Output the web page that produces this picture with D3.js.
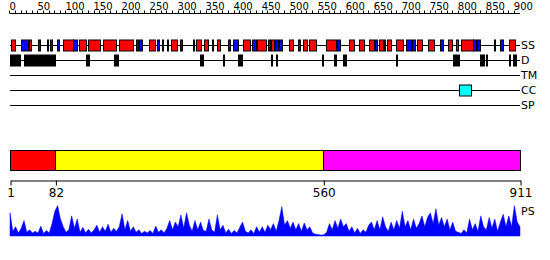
<!DOCTYPE html>
<html>
<head>
<meta charset="utf-8">
<script src="https://cdn.jsdelivr.net/npm/d3@7"></script>
<style>
  body { margin: 0; background: #fff; }
  text { font-family: "DejaVu Sans", Verdana, sans-serif; }
</style>
</head>
<body>
<script>
// sequence length and track names
const seqLength = 911;
const trackNames = ['SS', 'D', 'TM', 'CC', 'SP'];

// secondary structure: H = helix, E = strand (start, end residue)
const ssRanges = [
    ['H', 3, 10], ['E', 21, 33], ['H', 35, 39], ['E', 51, 55], ['H', 67, 69],
    ['E', 72, 76], ['E', 85, 89], ['H', 96, 114], ['E', 114, 121], ['H', 124, 137],
    ['H', 140, 162], ['H', 167, 190], ['H', 196, 221], ['E', 226, 230], ['E', 231, 237],
    ['H', 249, 260], ['E', 264, 267], ['E', 273, 274], ['H', 281, 283], ['H', 289, 299],
    ['E', 305, 308], ['H', 328, 330], ['H', 333, 342], ['H', 348, 356], ['E', 362, 364],
    ['H', 371, 376], ['E', 390, 394], ['E', 399, 408], ['H', 417, 430], ['E', 432, 439],
    ['H', 442, 458], ['E', 461, 464], ['H', 467, 472], ['E', 474, 479], ['E', 481, 486],
    ['H', 499, 507], ['E', 515, 519], ['H', 524, 532], ['H', 534, 546], ['H', 564, 582],
    ['E', 585, 591], ['H', 605, 614], ['H', 623, 632], ['H', 641, 650], ['E', 653, 657],
    ['H', 660, 667], ['E', 668, 670], ['H', 674, 682], ['H', 689, 701], ['E', 707, 716],
    ['E', 719, 724], ['H', 728, 737], ['H', 746, 757], ['E', 769, 775], ['H', 783, 790],
    ['H', 796, 800], ['H', 805, 826], ['E', 828, 834], ['E', 835, 841], ['E', 864, 866],
    ['E', 875, 880], ['H', 892, 903]
];

// disordered regions
const disorderRanges = [
    [1, 19], [26, 81], [137, 142], [187, 194], [340, 346], [381, 383], [408, 415],
    [467, 468], [476, 478], [558, 559], [580, 583], [596, 601], [689, 690],
    [791, 797], [798, 801], [840, 848], [850, 852], [892, 893], [898, 903]
];

// coiled coil, transmembrane and signal peptide
const coilRanges = [[803, 824]];
const tmRanges = [];
const spRanges = [];

// domain boundaries for the big bar
const domainBounds = [1, 82, 560, 911];

// PS profile, one value every 5 residues starting at 1
const psValues = [
    0.75, 0.15, 0.3, 0.1, 0.25, 0.5, 0.12, 0.2, 0.1, 0.15,
    0.1, 0.32, 0.08, 0.18, 0.1, 0.4, 0.8, 0.98, 0.55, 0.3,
    0.12, 0.2, 0.65, 0.25, 0.55, 0.12, 0.28, 0.1, 0.22, 0.1,
    0.2, 0.35, 0.12, 0.3, 0.15, 0.38, 0.12, 0.25, 0.15, 0.3,
    0.72, 0.2, 0.5, 0.15, 0.3, 0.12, 0.2, 0.08, 0.15, 0.1,
    0.18, 0.08, 0.32, 0.12, 0.2, 0.1, 0.25, 0.5, 0.2, 0.45,
    0.3, 0.68, 0.25, 0.75, 0.35, 0.15, 0.5, 0.2, 0.45, 0.18,
    0.15, 0.55, 0.2, 0.12, 0.68, 0.2, 0.35, 0.1, 0.22, 0.08,
    0.18, 0.1, 0.28, 0.45, 0.15, 0.1, 0.2, 0.08, 0.3, 0.12,
    0.3, 0.12, 0.35, 0.2, 0.4, 0.15, 0.5, 0.95, 0.35, 0.5,
    0.25, 0.45, 0.2, 0.4, 0.15, 0.42, 0.2, 0.3, 0.1, 0.06,
    0.05, 0.03, 0.04, 0.12, 0.4, 0.2, 0.5, 0.25, 0.55, 0.3,
    0.4, 0.15, 0.3, 0.1, 0.25, 0.08, 0.2, 0.12, 0.35, 0.45,
    0.2, 0.5, 0.2, 0.62, 0.3, 0.15, 0.45, 0.2, 0.5, 0.25,
    0.8, 0.3, 0.5, 0.2, 0.55, 0.25, 0.4, 0.65, 0.3, 0.6,
    0.75, 0.4, 0.88, 0.35, 0.6, 0.3, 0.55, 0.2, 0.45, 0.15,
    0.12, 0.08, 0.2, 0.1, 0.55, 0.2, 0.4, 0.15, 0.65, 0.3,
    0.2, 0.6, 0.25, 0.55, 0.15, 0.45, 0.7, 0.3, 0.65, 0.3,
    0.98, 0.45, 0.3
];

const width = 550, height = 260;

const svg = d3.select("body")
    .append("svg")
    .attr("width", width)
    .attr("height", height);

const x = d3.scaleLinear()
    .domain([1, seqLength])
    .range([10, 520]);

const trackY = d3.scalePoint()
    .domain(trackNames)
    .range([45.5, 105.5]);

// top ruler, small tick every 10, label every 50
const ruler = svg.append("g").attr("transform", "translate(0,13.5)");
ruler.append("line")
    .attr("x1", x(1)).attr("x2", x(seqLength))
    .attr("stroke", "black");
ruler.selectAll(".tick")
    .data(d3.range(0, 901, 10))
    .join("line")
    .attr("x1", d => Math.round(x(d)) + 0.5)
    .attr("x2", d => Math.round(x(d)) + 0.5)
    .attr("y1", 0).attr("y2", -3)
    .attr("stroke", "black");
ruler.selectAll("text")
    .data(d3.range(0, 901, 50))
    .join("text")
    .attr("x", d => x(d))
    .attr("y", -4)
    .style("font-size", "10px")
    .text(d => d);

// track lines and labels
const tracks = svg.append("g");
trackNames.forEach(function (name) {
    tracks.append("line")
        .attr("x1", x(1)).attr("x2", x(seqLength))
        .attr("y1", trackY(name)).attr("y2", trackY(name))
        .attr("stroke", "black");
    tracks.append("text")
        .attr("x", x(seqLength) + 1)
        .attr("y", trackY(name))
        .attr("dy", "0.35em")
        .style("font-size", "11px")
        .text(name);
});

function drawBoxes(ranges, track, color) {
    svg.append("g").selectAll("rect")
        .data(ranges)
        .join("rect")
        .attr("x", d => Math.round(x(d[0])) + 0.5)
        .attr("width", d => Math.max(1, Math.round(x(d[1]) - x(d[0]))))
        .attr("y", trackY(track) - 5.5)
        .attr("height", 11)
        .attr("fill", color)
        .attr("stroke", "black");
}

drawBoxes(ssRanges.filter(d => d[0] === 'H').map(d => [d[1], d[2]]), 'SS', '#ff0000');
drawBoxes(ssRanges.filter(d => d[0] === 'E').map(d => [d[1], d[2]]), 'SS', '#0000ff');
drawBoxes(disorderRanges, 'D', '#000000');
drawBoxes(tmRanges, 'TM', '#00ff00');
drawBoxes(coilRanges, 'CC', '#00ffff');
drawBoxes(spRanges, 'SP', '#ffa500');

// domain bar
const domainColors = ['#ff0000', '#ffff00', '#ff00ff'];
svg.append("g").selectAll("rect")
    .data(d3.pairs(domainBounds))
    .join("rect")
    .attr("x", d => Math.round(x(d[0])) + 0.5)
    .attr("width", d => Math.round(x(d[1]) - x(d[0])))
    .attr("y", 150.5)
    .attr("height", 20)
    .attr("fill", (d, i) => domainColors[i])
    .attr("stroke", "black");

// bottom axis with the domain boundaries
svg.append("g")
    .attr("transform", "translate(0.5,180.5)")
    .call(d3.axisBottom(x)
        .tickValues(domainBounds)
        .tickSize(5)
        .tickSizeOuter(0)
        .tickPadding(3))
    .call(g => g.selectAll("text")
        .style("font-size", "12px")
        .style("font-family", "DejaVu Sans, sans-serif"));

// PS profile
const psY = d3.scaleLinear().domain([0, 1]).range([236, 205]);
const psData = psValues.map((v, i) => ({ pos: 1 + i * 5, v: v }));

svg.append("path")
    .datum(psData)
    .attr("d", d3.area()
        .x(d => x(d.pos))
        .y0(psY(0))
        .y1(d => psY(d.v)))
    .attr("fill", "#0000ff")
    .attr("stroke", "#0000ff")
    .attr("stroke-width", 0.5);

svg.append("text")
    .attr("x", x(seqLength) + 1)
    .attr("y", 211)
    .attr("dy", "0.35em")
    .style("font-size", "11px")
    .text("PS");
</script>
</body>
</html>
